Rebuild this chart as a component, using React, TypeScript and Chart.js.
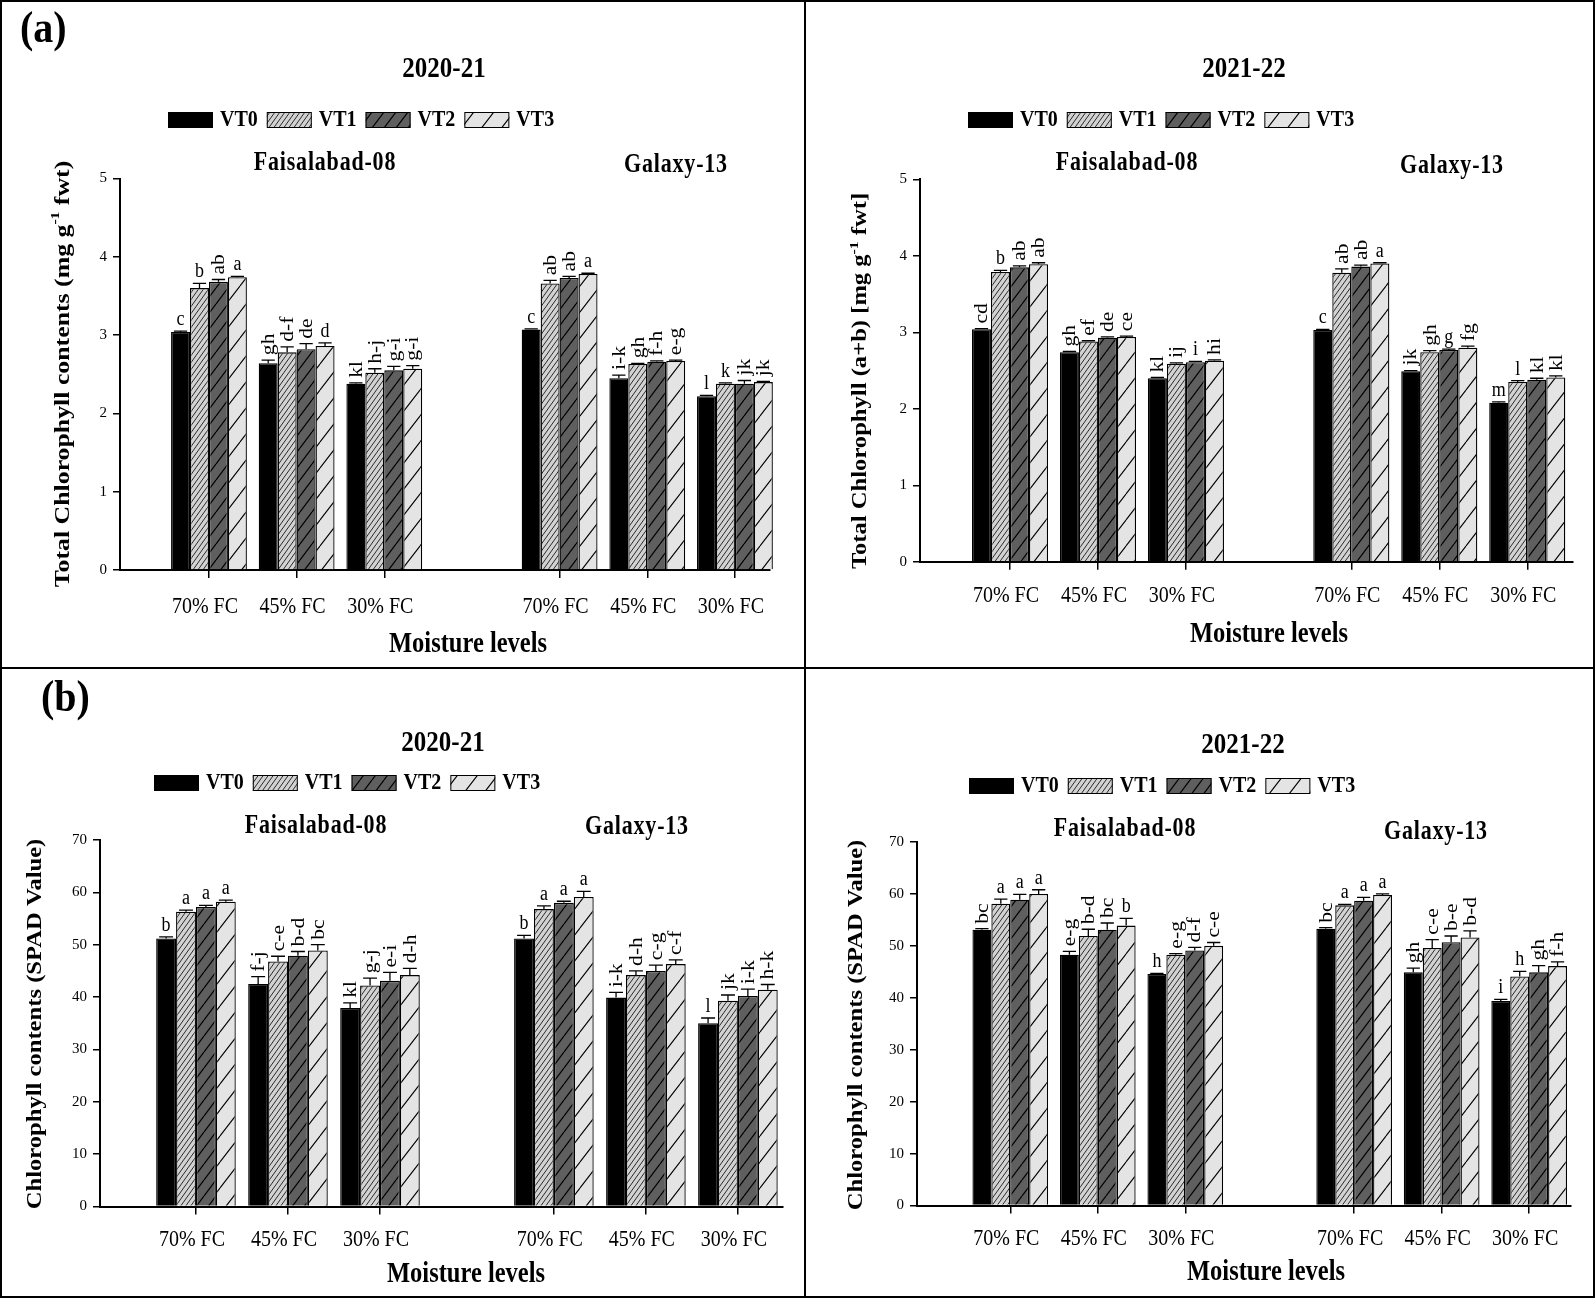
import React, { useEffect, useRef } from 'react';
import { Chart, registerables } from 'chart.js';

Chart.register(...registerables);

const FONT = '"Liberation Serif", "Times New Roman", Times, serif';

const moistureLevels = ['70% FC', '45% FC', '30% FC'];
const cultivars = ['Faisalabad-08', 'Galaxy-13'];
const treatments = ['VT0', 'VT1', 'VT2', 'VT3'];
const seasons = ['2020-21', '2021-22'];
const xAxisTitle = 'Moisture levels';

// Order of each array: F-08 70%, 45%, 30%, Galaxy-13 70%, 45%, 30%
// (a) Total chlorophyll 2020-21
const chl2021VT0 = [3.04, 2.64, 2.38, 3.07, 2.45, 2.22];
const chl2021VT1 = [3.6, 2.78, 2.52, 3.66, 2.63, 2.38];
const chl2021VT2 = [3.68, 2.82, 2.55, 3.73, 2.66, 2.38];
const chl2021VT3 = [3.74, 2.86, 2.57, 3.78, 2.67, 2.4];
const chl2021ErrVT0 = [0.01, 0.04, 0.01, 0.01, 0.04, 0.01];
const chl2021ErrVT1 = [0.06, 0.07, 0.05, 0.04, 0.01, 0.01];
const chl2021ErrVT2 = [0.03, 0.07, 0.05, 0.02, 0.01, 0.04];
const chl2021ErrVT3 = [0.01, 0.04, 0.04, 0.01, 0.01, 0.01];
const chl2021LetVT0 = ['c', 'gh', 'kl', 'c', 'i-k', 'l'];
const chl2021LetVT1 = ['b', 'd-f', 'h-j', 'ab', 'gh', 'k'];
const chl2021LetVT2 = ['ab', 'de', 'g-i', 'ab', 'f-h', 'jk'];
const chl2021LetVT3 = ['a', 'd', 'g-i', 'a', 'e-g', 'jk'];

// (a) Total chlorophyll 2021-22
const chl2122VT0 = [3.04, 2.74, 2.4, 3.03, 2.49, 2.08];
const chl2122VT1 = [3.79, 2.88, 2.59, 3.78, 2.74, 2.35];
const chl2122VT2 = [3.85, 2.93, 2.61, 3.86, 2.77, 2.38];
const chl2122VT3 = [3.89, 2.94, 2.63, 3.9, 2.8, 2.41];
const chl2122ErrVT0 = [0.01, 0.01, 0.01, 0.01, 0.01, 0.01];
const chl2122ErrVT1 = [0.02, 0.01, 0.01, 0.05, 0.02, 0.02];
const chl2122ErrVT2 = [0.02, 0.01, 0.01, 0.02, 0.01, 0.02];
const chl2122ErrVT3 = [0.02, 0.01, 0.01, 0.01, 0.02, 0.02];
const chl2122LetVT0 = ['cd', 'gh', 'kl', 'c', 'jk', 'm'];
const chl2122LetVT1 = ['b', 'ef', 'ij', 'ab', 'gh', 'l'];
const chl2122LetVT2 = ['ab', 'de', 'i', 'ab', 'g', 'kl'];
const chl2122LetVT3 = ['ab', 'ce', 'hi', 'a', 'fg', 'kl'];

// (b) SPAD 2020-21
const spad2021VT0 = [51.2, 42.5, 37.9, 51.2, 39.9, 35.0];
const spad2021VT1 = [56.3, 46.8, 42.2, 56.8, 44.2, 39.3];
const spad2021VT2 = [57.2, 47.9, 43.1, 58.0, 45.0, 40.2];
const spad2021VT3 = [58.2, 48.9, 44.2, 59.1, 46.3, 41.4];
const spad2021ErrVT0 = [0.3, 1.4, 1.0, 0.6, 1.0, 1.0];
const spad2021ErrVT1 = [0.3, 1.0, 1.4, 0.6, 0.8, 1.1];
const spad2021ErrVT2 = [0.3, 0.8, 1.6, 0.3, 1.1, 1.3];
const spad2021ErrVT3 = [0.3, 1.1, 1.3, 1.1, 0.8, 1.0];
const spad2021LetVT0 = ['b', 'f-j', 'kl', 'b', 'i-k', 'l'];
const spad2021LetVT1 = ['a', 'c-e', 'g-j', 'a', 'd-h', 'jk'];
const spad2021LetVT2 = ['a', 'b-d', 'e-i', 'a', 'c-g', 'i-k'];
const spad2021LetVT3 = ['a', 'bc', 'd-h', 'a', 'c-f', 'h-k'];

// (b) SPAD 2021-22
const spad2122VT0 = [53.1, 48.3, 44.6, 53.3, 44.9, 39.4];
const spad2122VT1 = [58.1, 51.9, 48.3, 57.8, 49.6, 44.1];
const spad2122VT2 = [58.9, 53.1, 49.1, 58.7, 50.7, 44.9];
const spad2122VT3 = [60.0, 53.9, 50.0, 59.8, 51.6, 46.1];
const spad2122ErrVT0 = [0.2, 0.65, 0.1, 0.2, 0.8, 0.3];
const spad2122ErrVT1 = [0.9, 1.3, 0.2, 0.2, 1.6, 1.0];
const spad2122ErrVT2 = [1.0, 1.3, 0.6, 0.65, 1.2, 1.3];
const spad2122ErrVT3 = [0.8, 1.4, 0.65, 0.2, 1.3, 0.8];
const spad2122LetVT0 = ['bc', 'e-g', 'h', 'bc', 'gh', 'i'];
const spad2122LetVT1 = ['a', 'b-d', 'e-g', 'a', 'c-e', 'h'];
const spad2122LetVT2 = ['a', 'bc', 'd-f', 'a', 'b-e', 'gh'];
const spad2122LetVT3 = ['a', 'b', 'c-e', 'a', 'b-d', 'f-h'];

const chlYTicks = [0, 1, 2, 3, 4, 5];
const spadYTicks = [0, 10, 20, 30, 40, 50, 60, 70];

type Part = { t: string; sup?: boolean };
const yTitleA1: Part[] = [{ t: 'Total Chlorophyll contents (mg g' }, { t: '-1', sup: true }, { t: ' fwt)' }];
const yTitleA2: Part[] = [{ t: 'Total Chlorophyll (a+b) [mg g' }, { t: '-1', sup: true }, { t: ' fwt]' }];
const yTitleB: Part[] = [{ t: 'Chlorophyll contents (SPAD Value)' }];

type Pt = [number, number];
type PanelCfg = {
  key: string;
  left: number; top: number; w: number; h: number;
  plot: { x: number; top: number; bottom: number; right: number };
  xMin: number; xMax: number; gap: number;
  yTicks: number[];
  values: number[][]; errors: number[][]; letters: string[][];
  season: string; yTitle: Part[]; yTitleSize: number; tag?: string;
  pos: { title: Pt; legend: Pt; subs: Pt[]; xLabelY: number; xTitle: Pt; yTitle: Pt; tag?: Pt };
};

const panels: PanelCfg[] = [
  {
    key: 'a1', left: 0, top: 0, w: 806, h: 668,
    plot: { x: 120, top: 178.5, bottom: 570, right: 770 },
    xMin: -1.015, xMax: 6.4, gap: 4, yTicks: chlYTicks,
    values: [chl2021VT0, chl2021VT1, chl2021VT2, chl2021VT3],
    errors: [chl2021ErrVT0, chl2021ErrVT1, chl2021ErrVT2, chl2021ErrVT3],
    letters: [chl2021LetVT0, chl2021LetVT1, chl2021LetVT2, chl2021LetVT3],
    season: seasons[0], yTitle: yTitleA1, yTitleSize: 21.5, tag: '(a)',
    pos: { title: [444, 69], legend: [168, 120], subs: [[325, 163], [676, 165]], xLabelY: 607, xTitle: [468, 644], yTitle: [63, 374], tag: [20, 31] },
  },
  {
    key: 'a2', left: 806, top: 0, w: 789, h: 668,
    plot: { x: 114, top: 179.4, bottom: 561.8, right: 767 },
    xMin: -1.023, xMax: 6.4, gap: 3.88, yTicks: chlYTicks,
    values: [chl2122VT0, chl2122VT1, chl2122VT2, chl2122VT3],
    errors: [chl2122ErrVT0, chl2122ErrVT1, chl2122ErrVT2, chl2122ErrVT3],
    letters: [chl2122LetVT0, chl2122LetVT1, chl2122LetVT2, chl2122LetVT3],
    season: seasons[1], yTitle: yTitleA2, yTitleSize: 20.5,
    pos: { title: [438, 69], legend: [162, 120], subs: [[321, 163], [646, 166]], xLabelY: 596, xTitle: [463, 634], yTitle: [55, 381] },
  },
  {
    key: 'b1', left: 0, top: 668, w: 806, h: 630,
    plot: { x: 100, top: 172, bottom: 538.5, right: 783 },
    xMin: -1.043, xMax: 6.38, gap: 3.89, yTicks: spadYTicks,
    values: [spad2021VT0, spad2021VT1, spad2021VT2, spad2021VT3],
    errors: [spad2021ErrVT0, spad2021ErrVT1, spad2021ErrVT2, spad2021ErrVT3],
    letters: [spad2021LetVT0, spad2021LetVT1, spad2021LetVT2, spad2021LetVT3],
    season: seasons[0], yTitle: yTitleB, yTitleSize: 20.5, tag: '(b)',
    pos: { title: [443, 75], legend: [154, 115], subs: [[316, 158], [637, 159]], xLabelY: 572, xTitle: [466, 606], yTitle: [36, 356], tag: [41, 32] },
  },
  {
    key: 'b2', left: 806, top: 668, w: 789, h: 630,
    plot: { x: 111, top: 174, bottom: 537.5, right: 765 },
    xMin: -1.066, xMax: 6.408, gap: 3.93, yTicks: spadYTicks,
    values: [spad2122VT0, spad2122VT1, spad2122VT2, spad2122VT3],
    errors: [spad2122ErrVT0, spad2122ErrVT1, spad2122ErrVT2, spad2122ErrVT3],
    letters: [spad2122LetVT0, spad2122LetVT1, spad2122LetVT2, spad2122LetVT3],
    season: seasons[1], yTitle: yTitleB, yTitleSize: 20.5,
    pos: { title: [437, 77], legend: [163, 118], subs: [[319, 161], [630, 164]], xLabelY: 571, xTitle: [460, 604], yTitle: [51, 357] },
  },
];

function hatch(bg: string, fg: string, w: number, h: number, lw: number): any {
  const c = document.createElement('canvas');
  c.width = w; c.height = h;
  const x = c.getContext('2d')!;
  x.fillStyle = bg; x.fillRect(0, 0, w, h);
  x.strokeStyle = fg; x.lineWidth = lw;
  x.beginPath();
  for (const k of [-1, 0, 1]) { x.moveTo(k * w, h); x.lineTo(k * w + w, 0); }
  x.stroke();
  return x.createPattern(c, 'repeat');
}

type TOpts = { bold?: boolean; align?: CanvasTextAlign; baseline?: CanvasTextBaseline; rot?: boolean; sy?: number; spacing?: number };
function text(ctx: CanvasRenderingContext2D, s: string, x: number, y: number, size: number, o: TOpts = {}) {
  const sy = o.sy ?? 1.2;
  ctx.save();
  ctx.translate(x, y);
  if (o.rot) { ctx.rotate(-Math.PI / 2); ctx.scale(sy, 1); } else ctx.scale(1, sy);
  ctx.font = `${o.bold ? 'bold ' : ''}${size}px ${FONT}`;
  (ctx as any).letterSpacing = `${o.spacing ?? 0}px`;
  ctx.textAlign = o.align ?? 'center';
  ctx.textBaseline = o.baseline ?? 'middle';
  ctx.fillStyle = '#000';
  ctx.fillText(s, 0, 0);
  ctx.restore();
}

function drawYTitle(ctx: CanvasRenderingContext2D, parts: Part[], cx: number, cy: number, size: number, sy = 1.2) {
  ctx.save();
  ctx.translate(cx, cy);
  ctx.rotate(-Math.PI / 2);
  ctx.scale(sy, 1);
  const fMain = `bold ${size}px ${FONT}`;
  const fSup = `bold ${Math.round(size * 0.62)}px ${FONT}`;
  let total = 0;
  parts.forEach((p) => { ctx.font = p.sup ? fSup : fMain; total += ctx.measureText(p.t).width; });
  let x = -total / 2;
  ctx.textAlign = 'left';
  ctx.textBaseline = 'middle';
  ctx.fillStyle = '#000';
  parts.forEach((p) => {
    ctx.font = p.sup ? fSup : fMain;
    ctx.fillText(p.t, x, p.sup ? -size * 0.33 : 0);
    x += ctx.measureText(p.t).width;
  });
  ctx.restore();
}

function Panel({ cfg }: { cfg: PanelCfg }) {
  const ref = useRef<HTMLCanvasElement>(null);
  useEffect(() => {
    const canvas = ref.current!;
    const fills: any[] = [
      '#000000',
      hatch('#d2d2d2', '#2a2a2a', 5, 7, 1),
      hatch('#5f5f5f', '#000000', 12, 16, 1.2),
      hatch('#e4e4e4', '#000000', 20, 26, 1.1),
    ];
    const xPos = [0, 1, 2, cfg.gap, cfg.gap + 1, cfg.gap + 2];
    const yMax = cfg.yTicks[cfg.yTicks.length - 1];
    const yStep = cfg.yTicks[1] - cfg.yTicks[0];

    const decor = {
      id: 'decor',
      afterDatasetsDraw(chart: any) {
        const ctx: CanvasRenderingContext2D = chart.ctx;
        const ys = chart.scales.y;
        cfg.values.forEach((vals, d) => {
          const meta = chart.getDatasetMeta(d);
          meta.data.forEach((bar: any, i: number) => {
            const top = ys.getPixelForValue(vals[i] + cfg.errors[d][i]);
            const x = bar.x;
            const half = bar.width * 0.35;
            ctx.save();
            ctx.strokeStyle = '#000';
            ctx.lineWidth = 1.3;
            ctx.beginPath();
            ctx.moveTo(x, bar.y); ctx.lineTo(x, top);
            ctx.moveTo(x - half, top); ctx.lineTo(x + half, top);
            ctx.stroke();
            ctx.restore();
            const s = cfg.letters[d][i];
            if (s.length === 1) text(ctx, s, x, top - 6, 18, { baseline: 'alphabetic' });
            else text(ctx, s, x + 1, top - 5, 18, { rot: true, align: 'left' });
          });
        });
      },
      afterDraw(chart: any) {
        const ctx: CanvasRenderingContext2D = chart.ctx;
        const xs = chart.scales.x;
        const p = cfg.pos;
        text(ctx, cfg.season, p.title[0], p.title[1], 25, { bold: true });
        let lx = p.legend[0];
        const ly = p.legend[1];
        treatments.forEach((name, d) => {
          ctx.save();
          ctx.fillStyle = fills[d];
          ctx.fillRect(lx, ly - 8, 45, 16);
          ctx.strokeStyle = '#000';
          ctx.lineWidth = 1;
          ctx.strokeRect(lx + 0.5, ly - 7.5, 44, 15);
          ctx.restore();
          lx += 52;
          text(ctx, name, lx, ly, 20, { bold: true, align: 'left' });
          ctx.font = `bold 20px ${FONT}`;
          lx += ctx.measureText(name).width + 9;
        });
        cultivars.forEach((c, k) => text(ctx, c, p.subs[k][0], p.subs[k][1], 22, { bold: true, spacing: 0.8 }));
        xPos.forEach((v, i) => text(ctx, moistureLevels[i % 3], xs.getPixelForValue(v) - 4, p.xLabelY, 20));
        text(ctx, xAxisTitle, p.xTitle[0], p.xTitle[1], 24.5, { bold: true });
        drawYTitle(ctx, cfg.yTitle, p.yTitle[0], p.yTitle[1], cfg.yTitleSize);
        if (cfg.tag && p.tag) text(ctx, cfg.tag, p.tag[0], p.tag[1], 40, { bold: true, align: 'left', sy: 1.1 });
      },
    };

    const chart = new Chart(canvas, {
      type: 'bar',
      data: {
        datasets: treatments.map((name, d) => ({
          label: name,
          data: cfg.values[d].map((v, i) => ({ x: xPos[i], y: v })),
          backgroundColor: fills[d],
          borderColor: '#000',
          borderWidth: 1.3,
          categoryPercentage: 0.865,
          barPercentage: 1,
          clip: false,
        })) as any,
      },
      options: {
        animation: false,
        responsive: false,
        events: [],
        layout: { padding: { left: 0, top: cfg.plot.top, right: cfg.w - cfg.plot.right, bottom: cfg.h - cfg.plot.bottom - 10 } },
        plugins: { legend: { display: false }, title: { display: false }, tooltip: { enabled: false } },
        scales: {
          x: {
            type: 'linear', min: cfg.xMin, max: cfg.xMax, offset: false, bounds: 'data',
            afterBuildTicks: (s: any) => { s.ticks = xPos.map((v) => ({ value: v })); },
            afterFit: (s: any) => { s.height = 10; },
            grid: { display: true, drawOnChartArea: false, drawTicks: true, tickLength: 8, color: '#000', lineWidth: 1.5, offset: false },
            border: { display: true, color: '#000', width: 2 },
            ticks: { callback: () => '', autoSkip: false, maxRotation: 0 },
          },
          y: {
            min: 0, max: yMax,
            afterFit: (s: any) => { s.width = cfg.plot.x; },
            ticks: { stepSize: yStep, font: { family: FONT, size: 15 }, color: '#000', padding: 6 },
            grid: { drawOnChartArea: false, tickLength: 7, color: '#000', lineWidth: 1.5 },
            border: { display: true, color: '#000', width: 2 },
          },
        } as any,
      },
      plugins: [decor],
    });
    return () => chart.destroy();
  }, [cfg]);
  return (
    <canvas
      ref={ref}
      width={cfg.w}
      height={cfg.h}
      style={{ position: 'absolute', left: cfg.left, top: cfg.top, width: cfg.w, height: cfg.h }}
    />
  );
}

export default function App() {
  return (
    <div style={{ position: 'absolute', left: 0, top: 0, width: 1595, height: 1298, background: '#fff', overflow: 'hidden' }}>
      {panels.map((p) => <Panel key={p.key} cfg={p} />)}
      <div style={{ position: 'absolute', left: 0, top: 0, width: 1595, height: 1298, border: '2px solid #000', boxSizing: 'border-box' }} />
      <div style={{ position: 'absolute', left: 804, top: 0, width: 2, height: 1298, background: '#000' }} />
      <div style={{ position: 'absolute', left: 0, top: 667, width: 1595, height: 2, background: '#000' }} />
    </div>
  );
}
